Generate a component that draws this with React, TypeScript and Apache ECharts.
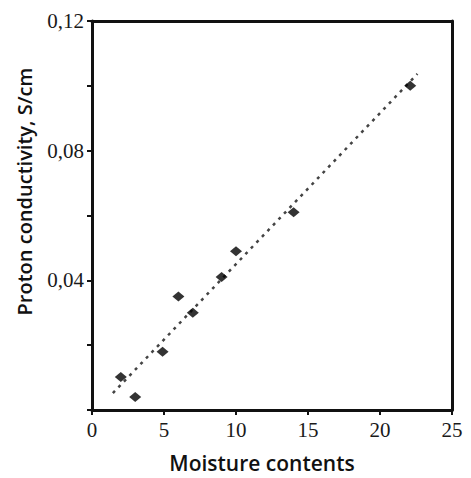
import React, { useEffect, useRef } from "react";
import * as echarts from "echarts";

const moisture = [2, 3, 4.9, 6, 7, 9, 10, 14, 22.1];
const conductivity = [0.0102, 0.004, 0.018, 0.035, 0.030, 0.041, 0.049, 0.061, 0.1];
const trendX = [1.45, 22.6];
const trendY = [0.0052, 0.1037];
const yLabels = ["0,04", "0,08", "0,12"];
const xTicks = [0, 5, 10, 15, 20, 25];

export default function App() {
  const ref = useRef<HTMLDivElement>(null);
  useEffect(() => {
    const chart = echarts.init(ref.current!, null, { renderer: "svg" });
    const labelFor = (v: number) => {
      const s = v.toFixed(2).replace(".", ",");
      return yLabels.includes(s) ? s : "";
    };
    chart.setOption({
      animation: false,
      backgroundColor: "#ffffff",
      grid: { left: 92, right: 19, top: 21, bottom: 66, show: false },
      xAxis: [
        {
          type: "value",
          min: 0,
          max: 25,
          interval: 5,
          name: "Moisture contents",
          nameLocation: "middle",
          nameGap: 42,
          nameTextStyle: { fontFamily: "Open Sans", fontSize: 21, fontWeight: 600, color: "#111", padding: [0, 20, 0, 0] },
          axisLine: { show: true, lineStyle: { color: "#111", width: 3 } },
          axisTick: { show: true, inside: false, length: 5, lineStyle: { color: "#111", width: 2 } },
          axisLabel: {
            fontFamily: "Liberation Serif",
            fontSize: 21,
            color: "#1a1a1a",
            margin: 9,
            formatter: (v: number) => (xTicks.includes(v) ? String(v) : ""),
          },
          splitLine: { show: false },
        },
        {
          type: "value",
          position: "top",
          min: 0,
          max: 25,
          axisLine: { show: true, onZero: false, lineStyle: { color: "#111", width: 3 } },
          axisTick: { show: false },
          axisLabel: { show: false },
          splitLine: { show: false },
        },
      ],
      yAxis: [
        {
          type: "value",
          min: 0,
          max: 0.12,
          interval: 0.02,
          name: "Proton conductivity, S/cm",
          nameLocation: "middle",
          nameGap: 58,
          nameTextStyle: { fontFamily: "Open Sans", fontSize: 20, fontWeight: 600, color: "#111", padding: [0, 0, 0, 48] },
          axisLine: { show: true, lineStyle: { color: "#111", width: 3 } },
          axisTick: { show: true, inside: false, length: 5, lineStyle: { color: "#111", width: 2 } },
          axisLabel: {
            fontFamily: "Liberation Serif",
            fontSize: 21,
            color: "#1a1a1a",
            margin: 8,
            formatter: labelFor,
          },
          splitLine: { show: false },
        },
        {
          type: "value",
          position: "right",
          min: 0,
          max: 0.12,
          axisLine: { show: true, onZero: false, lineStyle: { color: "#111", width: 3 } },
          axisTick: { show: false },
          axisLabel: { show: false },
          splitLine: { show: false },
        },
      ],
      series: [
        {
          type: "line",
          data: trendX.map((x, i) => [x, trendY[i]]),
          showSymbol: false,
          symbol: "none",
          lineStyle: { color: "#444", width: 2.5, type: [3, 5] },
          z: 1,
        },
        {
          type: "scatter",
          data: moisture.map((x, i) => [x, conductivity[i]]),
          symbol: "diamond",
          symbolSize: [12, 10],
          itemStyle: { color: "#000" },
          z: 2,
        },
      ],
    });
    return () => chart.dispose();
  }, []);
  return <div ref={ref} style={{ width: 471, height: 478, position: "absolute", left: 0, top: 0 }} />;
}
